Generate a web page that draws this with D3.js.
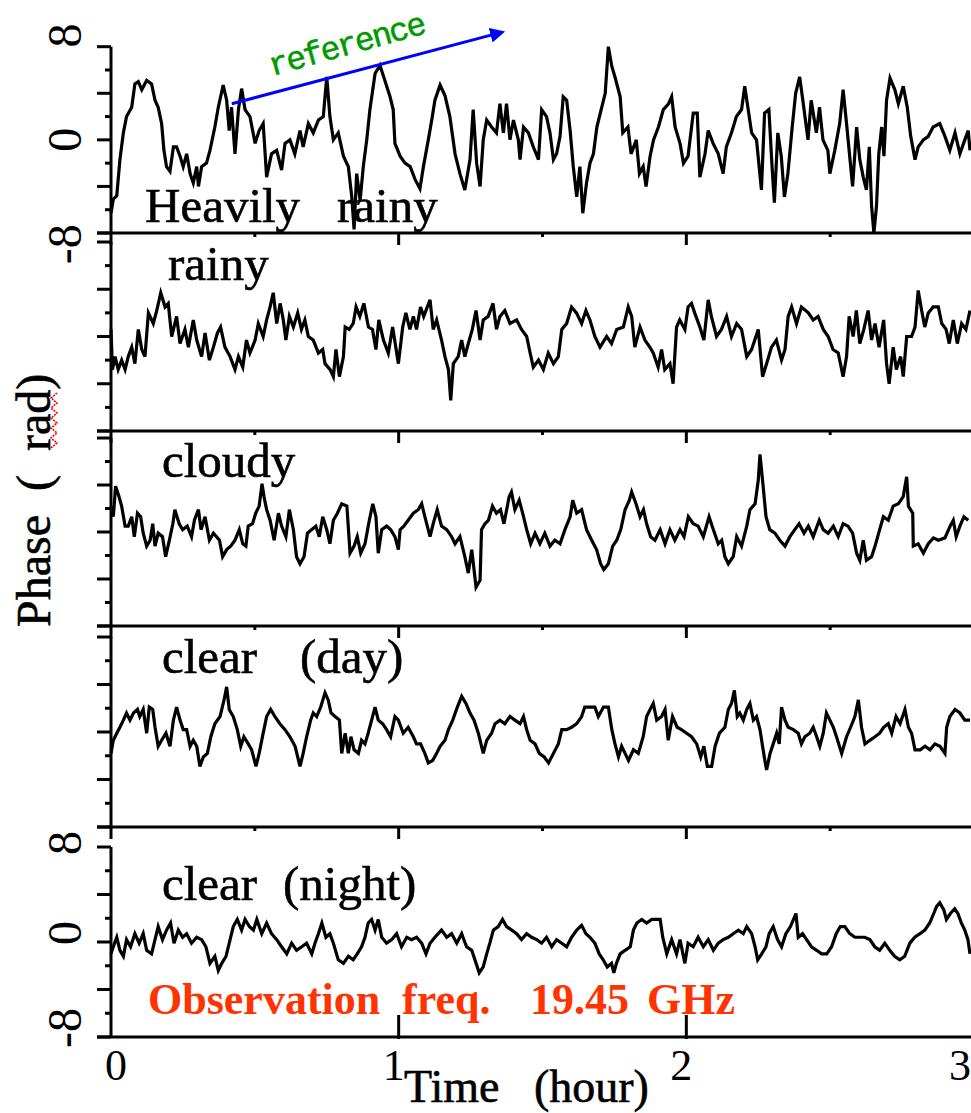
<!DOCTYPE html>
<html>
<head>
<meta charset="utf-8">
<script src="https://cdn.jsdelivr.net/npm/d3@7"></script>
<style>
  body { margin: 0; background: #fff; }
  svg { display: block; }
  text { font-family: "Liberation Serif", "Times New Roman", serif; }
</style>
</head>
<body>
<div id="chart"></div>
<script>
// phase records, [hour, rad]
var heavyRain = [[0,-6.3],[0.008,-5.1],[0.02,-4.8],[0.031,-1.7],[0.043,0.6],[0.054,2.0],[0.072,2.8],[0.083,4.8],[0.095,5.0],[0.107,4.3],[0.124,5.1],[0.141,4.8],[0.153,3.4],[0.164,2.8],[0.176,1.4],[0.184,-0.9],[0.193,-2.3],[0.205,-2.7],[0.217,-0.6],[0.228,-0.6],[0.24,-1.4],[0.251,-2.3],[0.263,-1.2],[0.275,-2.9],[0.286,-3.7],[0.298,-2.3],[0.304,-4.0],[0.315,-2.3],[0.332,-2.0],[0.344,-0.9],[0.361,1.1],[0.373,2.8],[0.39,4.7],[0.402,3.4],[0.411,0.8],[0.419,2.8],[0.431,-1.2],[0.443,2.6],[0.454,4.4],[0.466,2.6],[0.483,2.0],[0.501,-0.3],[0.515,0.8],[0.529,1.4],[0.541,-3.2],[0.558,-1.2],[0.576,-0.9],[0.593,-2.6],[0.605,-0.3],[0.622,0],[0.639,-1.2],[0.657,0.8],[0.668,-0.6],[0.686,1.4],[0.703,0.6],[0.721,1.7],[0.738,2.0],[0.75,5.4],[0.761,2.0],[0.773,0],[0.79,0.6],[0.808,-1.4],[0.825,-2.3],[0.837,-4.9],[0.845,-7.7],[0.854,-2.9],[0.866,-5.2],[0.877,-2.3],[0.889,0],[0.9,2.6],[0.918,5.7],[0.935,6.4],[0.952,5.1],[0.97,3.7],[0.981,2.6],[0.987,-0.3],[1.005,-1.4],[1.022,-2.0],[1.04,-2.3],[1.057,-3.4],[1.074,-4.2],[1.086,-2.3],[1.103,0],[1.115,1.7],[1.126,3.4],[1.144,4.7],[1.161,3.8],[1.178,2.0],[1.196,-1.2],[1.213,-2.9],[1.23,-4.3],[1.248,-1.7],[1.259,2.6],[1.271,-2.0],
  [1.283,-4.0],[1.294,0],[1.306,1.7],[1.323,1.1],[1.34,0.6],[1.352,3.1],[1.364,0.6],[1.375,3.1],[1.387,0],[1.399,1.7],[1.416,0],[1.422,-1.7],[1.434,1.1],[1.451,0.6],[1.468,-0.6],[1.486,-1.7],[1.497,2.6],[1.514,2.0],[1.526,0.6],[1.538,-1.7],[1.549,-1.2],[1.561,0.3],[1.572,3.7],[1.584,3.4],[1.596,0.8],[1.607,-2.3],[1.619,-4.9],[1.63,-2.3],[1.64,-6.3],[1.653,-3.7],[1.665,-2.0],[1.677,-1.2],[1.689,1.1],[1.706,2.8],[1.718,4.0],[1.729,8.0],[1.741,6.3],[1.752,5.4],[1.77,3.7],[1.779,0.6],[1.797,1.1],[1.808,-1.2],[1.826,0],[1.837,-2.9],[1.85,-2.3],[1.86,-4.0],[1.874,-1.4],[1.886,0],[1.903,1.1],[1.92,2.6],[1.938,3.1],[1.949,3.7],[1.961,1.1],[1.978,-0.3],[1.99,-2.0],[2.006,-1.4],[2.024,2.3],[2.038,2.3],[2.047,-3.2],[2.065,-1.2],[2.076,0.8],[2.093,-0.3],[2.111,-1.2],[2.128,-2.9],[2.139,-0.6],[2.157,0.6],[2.174,2.0],[2.192,2.6],[2.203,4.6],[2.215,2.6],[2.227,0.6],[2.244,0],[2.261,-4.3],[2.272,2.3],[2.287,2.6],[2.298,-2.3],[2.306,-5.4],[2.318,0.6],[2.33,-1.4],[2.341,-4.9],[2.353,-2.9],[2.368,1.1],[2.38,4.0],[2.394,5.4],[2.405,3.4],[2.423,0],[2.434,3.4],[2.452,0.6],[2.463,2.8],[2.475,0],[2.492,-0.9],[2.499,-2.9],[2.516,-0.9],[2.533,1.4],[2.545,4.3],[2.557,1.4],[2.569,-1.7],[2.578,-4.0],[2.592,1.1],[2.603,-1.7],[2.615,-3.2],[2.626,-4.3],[2.636,-0.6],[2.644,-5.7],[2.652,-8.0],[2.661,-5.7],[2.669,-1.2],[2.679,1.1],[2.687,-1.4],[2.696,3.4],[2.708,5.3],[2.725,4.3],[2.737,3.1],[2.754,4.6],[2.768,2.8],[2.78,0.3],[2.795,-1.7],[2.806,-0.6],[2.824,0],[2.841,0.3],[2.858,1.1],[2.881,1.4],[2.899,0.3],[2.916,-0.9],[2.934,0.6],[2.951,-1.2],[2.968,0],[2.98,0.8],[2.986,-0.9]];

var rain = [[0,0.6],[0.005,-2.8],[0.014,-1.7],[0.025,-2.8],[0.037,-2.0],[0.049,-2.8],[0.06,-1.7],[0.072,-0.9],[0.083,-2.3],[0.095,0.6],[0.107,-1.1],[0.118,-1.7],[0.13,2.0],[0.147,1.1],[0.159,2.2],[0.173,3.7],[0.188,2.5],[0.199,2.8],[0.211,0],[0.228,1.7],[0.24,-0.6],[0.257,0.6],[0.269,-0.9],[0.286,1.4],[0.298,-0.3],[0.315,-1.7],[0.327,0.3],[0.342,-2.0],[0.356,-0.9],[0.37,0.3],[0.381,0.8],[0.396,-0.9],[0.414,-1.7],[0.431,-2.8],[0.443,-1.7],[0.458,-2.6],[0.471,-0.3],[0.483,-1.4],[0.501,-0.3],[0.512,1.1],[0.529,0],[0.541,1.4],[0.553,2.5],[0.564,3.7],[0.576,1.1],[0.588,2.8],[0.599,1.4],[0.608,-0.3],[0.62,1.7],[0.634,0.8],[0.649,2.0],[0.662,0.6],[0.674,1.4],[0.686,0],[0.703,-0.3],[0.721,-1.4],[0.736,-1.1],[0.744,-2.3],[0.762,-2.8],[0.773,-3.4],[0.782,-1.1],[0.794,-3.4],[0.808,-1.7],[0.814,0.8],[0.828,0.6],[0.842,1.1],[0.852,2.5],[0.865,1.7],[0.879,2.8],[0.895,0.8],[0.909,0.6],[0.921,-1.1],[0.931,1.4],[0.947,-0.3],[0.964,-1.4],[0.979,0.8],[0.999,-2.3],[1.014,0.8],[1.025,2.0],[1.039,0.6],[1.051,1.7],[1.062,0.6],[1.076,2.5],[1.087,1.7],[1.109,3.1],[1.12,0.6],[1.132,1.4],[1.149,-0.3],[1.161,-1.7],[1.173,-2.8],[1.181,-5.4],[1.19,-2.3],[1.207,-1.7],[1.219,-0.3],[1.23,-1.7],[1.242,-0.6],[1.256,0.6],[1.269,2.2],
  [1.283,-0.3],[1.294,1.4],[1.311,1.7],[1.328,2.8],[1.34,0.6],[1.352,1.7],[1.369,2.2],[1.387,1.1],[1.41,1.4],[1.427,0.6],[1.445,0],[1.457,-1.4],[1.468,-2.6],[1.486,-2.0],[1.503,-2.8],[1.52,-1.4],[1.538,-2.3],[1.555,-1.7],[1.567,0.6],[1.584,1.1],[1.601,2.5],[1.618,2.0],[1.636,1.1],[1.651,2.2],[1.665,1.4],[1.682,0],[1.7,-0.9],[1.723,0],[1.74,-0.6],[1.758,0.6],[1.781,0.8],[1.798,2.5],[1.81,1.7],[1.821,-0.9],[1.839,0.8],[1.856,-0.3],[1.873,-0.9],[1.885,-1.4],[1.902,-2.6],[1.914,-1.1],[1.925,-2.8],[1.943,-2.3],[1.954,-4.0],[1.966,0.8],[1.977,1.4],[1.995,0.6],[2.006,2.5],[2.018,2.8],[2.029,2.0],[2.047,0.8],[2.061,-0.3],[2.076,3.1],[2.087,1.7],[2.105,0],[2.122,0.6],[2.14,1.7],[2.157,0],[2.175,1.1],[2.192,0.6],[2.21,-1.7],[2.227,-1.1],[2.25,0.6],[2.265,-3.4],[2.279,-2.3],[2.296,-0.9],[2.313,-0.3],[2.331,-2.0],[2.343,-1.1],[2.354,1.7],[2.366,2.5],[2.383,1.1],[2.4,2.5],[2.424,2.0],[2.441,1.4],[2.458,1.7],[2.476,0.6],[2.493,0],[2.51,-1.1],[2.528,-1.4],[2.545,-3.4],[2.557,-1.7],[2.566,1.7],[2.58,0],[2.591,2.2],[2.603,-0.6],[2.617,0.6],[2.632,2.2],[2.644,-0.3],[2.656,1.1],[2.67,-0.9],[2.686,1.4],[2.696,-2.3],[2.705,-4.0],[2.719,-0.9],[2.73,-2.8],[2.745,-1.7],[2.754,-3.4],[2.766,0],[2.783,0],[2.795,0.8],[2.806,3.9],[2.818,2.2],[2.829,0.8],[2.841,2.0],[2.858,2.5],[2.876,2.5],[2.888,1.1],[2.903,0.6],[2.914,-0.6],[2.928,1.4],[2.942,-0.6],[2.957,1.1],[2.972,0.6],[2.986,2.2]];

var cloudy = [[0,2.2],[0.008,1.3],[0.016,3.9],[0.028,3.0],[0.037,2.2],[0.049,0.5],[0.06,0.5],[0.072,1.3],[0.081,-0.4],[0.092,1.6],[0.103,1.3],[0.112,-0.1],[0.124,-1.2],[0.136,-0.7],[0.145,0.7],[0.153,-1.2],[0.164,-0.1],[0.179,-0.4],[0.19,-2.1],[0.203,-0.7],[0.215,0.7],[0.222,1.9],[0.237,0.7],[0.249,0.2],[0.265,0.5],[0.28,-0.4],[0.29,1.0],[0.304,1.9],[0.313,0.2],[0.327,1.3],[0.342,-0.7],[0.356,-0.1],[0.367,-0.4],[0.377,-0.7],[0.388,-2.1],[0.402,-1.5],[0.416,-1.2],[0.431,-0.7],[0.446,0.2],[0.458,-1.0],[0.469,-1.2],[0.477,0.5],[0.492,0.7],[0.503,1.6],[0.515,2.2],[0.525,4.1],[0.532,3.0],[0.541,1.9],[0.553,1.0],[0.567,-0.7],[0.582,1.6],[0.593,0.5],[0.608,-0.4],[0.62,1.9],[0.634,0.2],[0.645,-2.1],[0.657,-2.7],[0.671,-2.1],[0.683,-0.1],[0.697,0.2],[0.712,0.5],[0.724,-0.4],[0.736,1.3],[0.75,0.2],[0.761,-1.0],[0.773,1.0],[0.787,1.6],[0.802,2.4],[0.82,2.2],[0.831,-1.8],[0.845,-1.2],[0.856,-0.4],[0.868,-1.8],[0.883,-1.0],[0.898,1.0],[0.91,2.4],[0.921,1.3],[0.929,-1.8],[0.941,0.2],[0.958,0.5],[0.972,0.2],[0.987,-0.4],[0.999,-1.5],[1.005,0.2],[1.018,0.5],[1.033,1.0],[1.051,1.6],[1.068,1.9],[1.08,2.4],[1.091,1.3],[1.109,-0.4],[1.12,0.7],[1.134,1.9],[1.149,0.5],[1.167,0.2],[1.184,-0.4],[1.196,-1.0],[1.213,-0.4],[1.23,-2.1],[1.242,-3.5],[1.254,-1.5],[1.269,-4.7],
  [1.283,-4.1],[1.288,0.2],[1.3,0.7],[1.312,1.0],[1.326,2.2],[1.34,1.6],[1.354,1.9],[1.366,0.7],[1.384,3.0],[1.392,3.4],[1.404,1.9],[1.419,2.7],[1.431,1.6],[1.445,0.2],[1.459,-1.0],[1.474,-0.1],[1.491,-1.0],[1.508,-0.1],[1.526,-1.2],[1.543,-0.7],[1.561,-1.0],[1.578,0.2],[1.596,1.3],[1.605,2.7],[1.619,1.6],[1.636,1.9],[1.653,0.2],[1.671,-0.7],[1.688,-1.5],[1.702,-2.7],[1.713,-3.2],[1.729,-2.7],[1.744,-1.2],[1.758,-0.7],[1.772,0.2],[1.787,1.9],[1.802,2.7],[1.81,3.4],[1.825,2.4],[1.839,1.3],[1.851,1.9],[1.862,0.7],[1.876,-0.4],[1.891,-0.7],[1.909,0.2],[1.926,-1.0],[1.943,0.2],[1.96,-0.7],[1.978,0.2],[1.992,-0.4],[2.007,1.3],[2.024,0.7],[2.041,0.5],[2.059,-0.4],[2.079,1.3],[2.094,0.2],[2.111,-1.0],[2.123,-0.7],[2.134,-2.1],[2.146,-2.7],[2.163,-2.1],[2.175,-0.4],[2.192,-1.2],[2.21,0.5],[2.221,1.9],[2.239,2.4],[2.25,4.4],[2.256,6.6],[2.265,4.4],[2.277,1.3],[2.29,0.2],[2.308,-0.1],[2.325,-0.7],[2.343,-1.2],[2.36,-0.4],[2.377,0.2],[2.392,0.7],[2.409,-0.1],[2.424,0.5],[2.441,-0.4],[2.462,1.0],[2.476,0.2],[2.493,-0.1],[2.511,0.5],[2.528,-0.4],[2.545,0.7],[2.562,0.5],[2.578,-0.1],[2.592,-1.8],[2.603,-2.4],[2.615,-0.7],[2.626,-2.4],[2.644,-2.1],[2.656,-1.2],[2.672,0.2],[2.685,1.3],[2.702,1.0],[2.719,2.2],[2.737,2.4],[2.754,3.0],[2.76,3.9],[2.766,4.7],[2.772,2.2],[2.787,1.6],[2.789,-1.2],[2.806,-1.0],[2.824,-1.8],[2.841,-1.0],[2.859,-0.5],[2.876,-0.7],[2.899,-0.5],[2.917,0.5],[2.928,1.0],[2.938,-0.4],[2.951,0.5],[2.965,1.3],[2.98,1.0]];

var clearDay = [[0,-1.8],[0.008,-0.7],[0.02,-0.1],[0.031,0.4],[0.043,1.0],[0.054,1.6],[0.066,1.0],[0.078,1.6],[0.092,1.9],[0.1,1.3],[0.112,1.9],[0.124,-0.1],[0.133,2.1],[0.145,1.9],[0.153,0.4],[0.164,-1.2],[0.176,-0.7],[0.191,-0.1],[0.205,-1.2],[0.217,1.0],[0.228,2.1],[0.24,1.0],[0.251,0.2],[0.263,0.2],[0.275,-1.2],[0.286,-0.7],[0.298,-1.2],[0.309,-2.9],[0.321,-2.1],[0.335,-1.8],[0.347,-0.4],[0.361,0.7],[0.379,1.3],[0.393,2.7],[0.402,3.8],[0.411,1.9],[0.425,1.3],[0.439,0.2],[0.451,-1.2],[0.462,-0.4],[0.477,-1.0],[0.489,-1.5],[0.504,-2.9],[0.515,-1.8],[0.529,-0.1],[0.541,1.3],[0.555,1.9],[0.57,1.3],[0.587,0.7],[0.605,0.2],[0.622,-0.4],[0.64,-1.2],[0.657,-2.9],[0.668,-1.8],[0.68,-0.4],[0.694,1.0],[0.703,1.6],[0.715,1.3],[0.729,2.1],[0.744,3.3],[0.755,2.7],[0.765,1.6],[0.779,1.3],[0.794,1.0],[0.802,-1.8],[0.814,-0.1],[0.825,-1.8],[0.834,-0.4],[0.845,-1.5],[0.86,-1.8],[0.871,-0.7],[0.883,-1.0],[0.894,-0.1],[0.906,1.0],[0.918,2.1],[0.929,1.0],[0.944,0.7],[0.958,0.2],[0.972,-0.4],[0.987,1.3],[0.999,1.0],[1.016,-0.1],[1.033,0.4],[1.051,-0.4],[1.062,-1.0],[1.076,-1.0],[1.091,-1.8],[1.103,-2.6],[1.118,-2.4],[1.132,-1.8],[1.144,-1.2],[1.161,-0.7],[1.173,0.2],[1.188,1.0],[1.204,2.1],[1.219,3.0],[1.234,2.4],[1.248,1.6],[1.262,1.0],[1.277,-0.1],
  [1.294,-1.8],[1.306,-0.7],[1.323,-0.1],[1.335,0.7],[1.352,1.0],[1.369,0.7],[1.387,1.3],[1.404,1.0],[1.422,0.7],[1.434,1.3],[1.445,0.2],[1.457,-0.7],[1.474,-1.0],[1.489,-1.8],[1.506,-2.1],[1.521,-2.6],[1.538,-1.8],[1.555,-1.0],[1.567,0.2],[1.584,0.2],[1.601,0.4],[1.619,0.7],[1.636,1.3],[1.647,2.1],[1.665,2.1],[1.682,2.1],[1.694,1.3],[1.712,2.1],[1.729,2.1],[1.741,0.2],[1.752,-1.0],[1.764,-2.1],[1.775,-1.2],[1.787,-1.8],[1.799,-2.4],[1.816,-1.5],[1.833,-1.8],[1.85,-0.4],[1.862,1.3],[1.874,1.9],[1.885,2.4],[1.897,1.0],[1.914,1.3],[1.926,1.9],[1.937,-0.7],[1.952,1.3],[1.968,0.4],[1.983,0.2],[2.001,-0.1],[2.018,-0.4],[2.036,-1.0],[2.05,-2.1],[2.061,-1.2],[2.073,-2.9],[2.088,-2.9],[2.1,-1.2],[2.115,-0.1],[2.134,0.4],[2.146,1.9],[2.157,2.4],[2.167,3.5],[2.177,1.3],[2.186,1.6],[2.198,1.0],[2.21,1.9],[2.221,2.4],[2.233,1.0],[2.244,1.3],[2.256,0.2],[2.265,-1.2],[2.273,-2.4],[2.279,-3.2],[2.291,-1.8],[2.302,-1.0],[2.314,-0.1],[2.323,-1.0],[2.331,2.1],[2.343,1.0],[2.354,0.4],[2.372,0.2],[2.389,-0.1],[2.4,-1.0],[2.412,-0.4],[2.429,-0.1],[2.441,0.4],[2.453,-0.4],[2.464,-1.2],[2.476,-0.1],[2.487,1.6],[2.499,1.0],[2.511,0.4],[2.522,-0.4],[2.54,-1.8],[2.557,-0.4],[2.571,0.4],[2.586,1.3],[2.598,2.7],[2.609,0.4],[2.621,-1.0],[2.638,-0.7],[2.656,-0.4],[2.672,-0.1],[2.686,0.4],[2.702,0.7],[2.714,-0.1],[2.729,1.3],[2.743,0.7],[2.76,1.9],[2.772,0.4],[2.783,-0.1],[2.795,-1.5],[2.813,-1.5],[2.83,-1.2],[2.847,-1.5],[2.864,-1.0],[2.882,-1.2],[2.899,-1.8],[2.905,0.4],[2.916,1.3],[2.934,1.9],[2.951,1.6],[2.968,1.0],[2.986,1.0]];

var clearNight = [[0,-1.0],[0.008,-0.4],[0.02,0.4],[0.031,-0.7],[0.043,-1.2],[0.054,0.2],[0.068,-0.4],[0.083,0.7],[0.098,-0.1],[0.112,0.7],[0.124,-0.7],[0.141,-1.0],[0.153,0.2],[0.164,1.3],[0.179,0.2],[0.193,1.0],[0.207,1.6],[0.219,-0.1],[0.234,1.0],[0.249,0.4],[0.263,0.7],[0.28,-0.1],[0.298,0.4],[0.315,0.2],[0.33,-0.4],[0.344,-1.8],[0.361,-1.2],[0.373,-2.4],[0.385,-1.8],[0.4,-1.2],[0.411,-0.1],[0.425,1.3],[0.439,1.9],[0.454,1.0],[0.466,1.9],[0.481,1.3],[0.495,1.0],[0.507,1.9],[0.524,0.7],[0.541,1.6],[0.558,0.7],[0.576,0.2],[0.593,-0.4],[0.611,-1.0],[0.628,-0.1],[0.645,-0.7],[0.663,-0.4],[0.68,-0.1],[0.698,-1.0],[0.709,-0.1],[0.721,0.7],[0.733,1.6],[0.747,0.4],[0.761,0.7],[0.773,-0.1],[0.79,-1.5],[0.808,-1.8],[0.825,-1.2],[0.842,-1.5],[0.856,-1.0],[0.871,-0.4],[0.883,0.4],[0.894,1.6],[0.906,1.9],[0.918,1.0],[0.929,1.9],[0.941,0.4],[0.958,-0.1],[0.976,0.2],[0.993,0.7],[1.01,-0.4],[1.028,0.4],[1.045,0.2],[1.062,0.4],[1.08,-0.1],[1.095,-1.0],[1.109,-0.1],[1.126,0.4],[1.149,1.0],[1.167,0.4],[1.184,0.7],[1.202,-0.1],[1.219,0.7],[1.236,-0.4],[1.254,-0.7],[1.265,-1.5],[1.28,-2.6],
  [1.294,-2.1],[1.306,-1.0],[1.317,-0.1],[1.329,1.0],[1.346,1.3],[1.361,1.9],[1.375,1.3],[1.393,1.0],[1.41,0.7],[1.427,0.2],[1.445,0.7],[1.462,0.4],[1.48,0.2],[1.497,-0.1],[1.514,0.4],[1.532,-0.4],[1.549,0.2],[1.567,-0.1],[1.584,-0.4],[1.601,0.4],[1.619,1.0],[1.636,1.4],[1.651,0.7],[1.665,0.4],[1.682,-0.1],[1.697,-1.0],[1.711,-1.5],[1.725,-2.1],[1.74,-1.8],[1.748,-2.6],[1.757,-1.8],[1.77,-1.0],[1.787,-0.7],[1.805,-0.4],[1.816,1.0],[1.828,1.6],[1.845,1.9],[1.862,1.6],[1.88,1.9],[1.897,1.9],[1.909,1.9],[1.918,0.4],[1.932,-1.0],[1.949,0.2],[1.966,-1.0],[1.978,0.2],[1.995,-1.8],[2.006,-0.1],[2.024,-0.4],[2.041,0.4],[2.059,-0.4],[2.076,0.2],[2.094,-0.7],[2.111,-0.1],[2.128,0.2],[2.146,0.4],[2.163,0.7],[2.181,1.0],[2.198,0.7],[2.21,1.3],[2.227,0.7],[2.239,-0.4],[2.248,-1.5],[2.262,-1.0],[2.277,-0.4],[2.288,0.7],[2.302,1.3],[2.317,0.2],[2.331,-0.4],[2.346,0.7],[2.362,1.3],[2.381,2.4],[2.389,0.4],[2.404,0.7],[2.418,0.2],[2.435,-0.4],[2.453,-0.7],[2.47,-1.0],[2.488,-1.0],[2.505,-0.4],[2.521,0.7],[2.535,1.3],[2.551,1.3],[2.568,0.7],[2.586,0.4],[2.603,0.4],[2.62,0.4],[2.638,0.2],[2.655,-0.4],[2.672,-0.7],[2.69,-0.1],[2.707,-0.7],[2.724,-1.2],[2.742,-1.5],[2.759,-1.2],[2.777,-0.1],[2.794,0.4],[2.812,0.7],[2.829,1.0],[2.846,1.6],[2.86,2.4],[2.87,3.0],[2.881,3.3],[2.895,2.7],[2.904,1.9],[2.918,2.4],[2.933,2.8],[2.944,2.4],[2.956,1.6],[2.968,1.0],[2.979,0.2],[2.986,-1.0]];

var xTicks = [0, 1, 2, 3];
var xMinorTicks = [0.5, 1.5, 2.5];
var yMajorTicks = [-8, -4, 0, 4, 8];
var yMinorTicks = [-6, -2, 2, 6];
var yTickLabels = [-8, 0, 8];

// reference arrow, in hours / rad of the top panel
var arrowFrom = [0.42, 3.1], arrowTo = [1.36, 9.25];

var width = 971, height = 1113;

var svg = d3.select("#chart").append("svg")
    .attr("width", width)
    .attr("height", height);

var x = d3.scaleLinear().domain([0, 3]).range([111, 974]);

var panels = [
    {data: heavyRain, top: 46.7, bottom: 233, labels: [["Heavily", 145], ["rainy", 337]], labelY: 222, showY: true, yNudge: function(v) { return -v * 1.4; }},
    {data: rain, top: 242, bottom: 431, labels: [["rainy", 168]], labelY: 280},
    {data: cloudy, top: 438, bottom: 626, labels: [["cloudy", 162]], labelY: 477},
    {data: clearDay, top: 637, bottom: 827, labels: [["clear", 162], ["(day)", 300]], labelY: 673},
    {data: clearNight, top: 847, bottom: 1037, labels: [["clear", 162], ["(night)", 283]], labelY: 900, showY: true, last: true, yNudge: function(v) { return v === 8 ? -4 : -9; }}
];

panels.forEach(function(p) {
    var y = d3.scaleLinear().domain([-8, 8]).range([p.bottom, p.top]);
    p.y = y;
    var g = svg.append("g");

    // bottom frame line
    g.append("line")
        .attr("x1", 97).attr("x2", width)
        .attr("y1", p.bottom).attr("y2", p.bottom)
        .attr("stroke", "#000").attr("stroke-width", 3);

    // y axis line
    g.append("line")
        .attr("x1", x(0)).attr("x2", x(0))
        .attr("y1", y(8)).attr("y2", y(-8))
        .attr("stroke", "#000").attr("stroke-width", 3);

    g.selectAll(".ymaj").data(yMajorTicks).enter().append("line")
        .attr("x1", 97).attr("x2", x(0))
        .attr("y1", function(d) { return y(d); }).attr("y2", function(d) { return y(d); })
        .attr("stroke", "#000").attr("stroke-width", 3);
    g.selectAll(".ymin").data(yMinorTicks).enter().append("line")
        .attr("x1", 105).attr("x2", x(0))
        .attr("y1", function(d) { return y(d); }).attr("y2", function(d) { return y(d); })
        .attr("stroke", "#000").attr("stroke-width", 3);

    // x ticks: outward for upper panels, long inward ticks on the last one
    if (p.last) {
        g.selectAll(".xmaj").data(xTicks.slice(1)).enter().append("line")
            .attr("x1", function(d) { return x(d); }).attr("x2", function(d) { return x(d); })
            .attr("y1", p.bottom - 22).attr("y2", p.bottom + 2)
            .attr("stroke", "#000").attr("stroke-width", 3);
    } else {
        g.selectAll(".xmaj").data(xTicks).enter().append("line")
            .attr("x1", function(d) { return x(d); }).attr("x2", function(d) { return x(d); })
            .attr("y1", p.bottom).attr("y2", p.bottom + 12)
            .attr("stroke", "#000").attr("stroke-width", 3);
        g.selectAll(".xmin").data(xMinorTicks).enter().append("line")
            .attr("x1", function(d) { return x(d); }).attr("x2", function(d) { return x(d); })
            .attr("y1", p.bottom).attr("y2", p.bottom + 4)
            .attr("stroke", "#000").attr("stroke-width", 3);
    }

    if (p.showY) {
        g.selectAll(".ylab").data(yTickLabels).enter().append("text")
            .attr("transform", function(d) { return "translate(64," + (y(d) + p.yNudge(d)) + ") rotate(-90)"; })
            .attr("text-anchor", "middle")
            .attr("dominant-baseline", "central")
            .style("font-size", "48px")
            .text(function(d) { return d; });
    }

    var line = d3.line()
        .x(function(d) { return x(d[0]); })
        .y(function(d) { return y(d[1]); });

    g.append("path")
        .datum(p.data)
        .attr("d", line)
        .attr("fill", "none")
        .attr("stroke", "#000")
        .attr("stroke-width", 3.2);

    p.labels.forEach(function(l) {
        g.append("text")
            .attr("x", l[1]).attr("y", p.labelY)
            .attr("stroke", "#000").attr("stroke-width", 0.6)
            .style("font-size", "49px")
            .text(l[0]);
    });
});

// x tick labels
svg.selectAll(".xlab").data(xTicks).enter().append("text")
    .attr("x", function(d, i) { return i === 0 ? x(d) - 6 : (i === xTicks.length - 1 ? width : x(d) - 5); })
    .attr("y", 1080)
    .attr("text-anchor", function(d, i) { return i === 0 ? "start" : (i === xTicks.length - 1 ? "end" : "middle"); })
    .style("font-size", "44px")
    .text(function(d) { return d; });

svg.append("text")
    .attr("x", 404).attr("y", 1102)
    .attr("stroke", "#000").attr("stroke-width", 0.6)
    .style("font-size", "46px")
    .style("white-space", "pre")
    .text("Time   (hour)");

// y title
svg.append("text")
    .attr("transform", "translate(50,627) rotate(-90)")
    .attr("stroke", "#000").attr("stroke-width", 0.6)
    .style("font-size", "48px")
    .style("white-space", "pre")
    .text("Phase  (  rad)");

// spell-check squiggle under "rad"
var squiggle = d3.range(0, 12).map(function(i) { return [i % 2 ? 57 : 51, 448 - i * 5]; });
svg.append("path")
    .attr("d", d3.line()(squiggle))
    .attr("fill", "none")
    .attr("stroke", "#ff0000")
    .attr("stroke-width", 1.6)
    .attr("stroke-dasharray", "2,1");

// observation frequency note
var note = [["Observation", 148], ["freq.", 402], ["19.45", 530], ["GHz", 647]];
note.forEach(function(n) {
    svg.append("text")
        .attr("x", n[1]).attr("y", 1014)
        .attr("fill", "#ff3300")
        .style("font-size", "44px")
        .style("font-weight", "bold")
        .text(n[0]);
});

// reference arrow
var yTop = panels[0].y;
svg.append("defs").append("marker")
    .attr("id", "head")
    .attr("viewBox", "0 0 10 10")
    .attr("refX", 8).attr("refY", 5)
    .attr("markerWidth", 5).attr("markerHeight", 5)
    .attr("orient", "auto")
    .append("path")
    .attr("d", "M0,0 L10,5 L0,10 z")
    .attr("fill", "#0000ff");

svg.append("line")
    .attr("x1", x(arrowFrom[0])).attr("y1", yTop(arrowFrom[1]))
    .attr("x2", x(arrowTo[0])).attr("y2", yTop(arrowTo[1]))
    .attr("stroke", "#0000ff")
    .attr("stroke-width", 3)
    .attr("marker-end", "url(#head)");

svg.append("text")
    .attr("transform", "translate(272,76) rotate(-15.5)")
    .attr("fill", "#009900")
    .attr("stroke", "#009900").attr("stroke-width", 0.5)
    .style("font-family", "'Liberation Mono', 'DejaVu Sans Mono', monospace")
    .style("font-size", "33px")
    .style("letter-spacing", "-2px")
    .text("reference");
</script>
</body>
</html>
